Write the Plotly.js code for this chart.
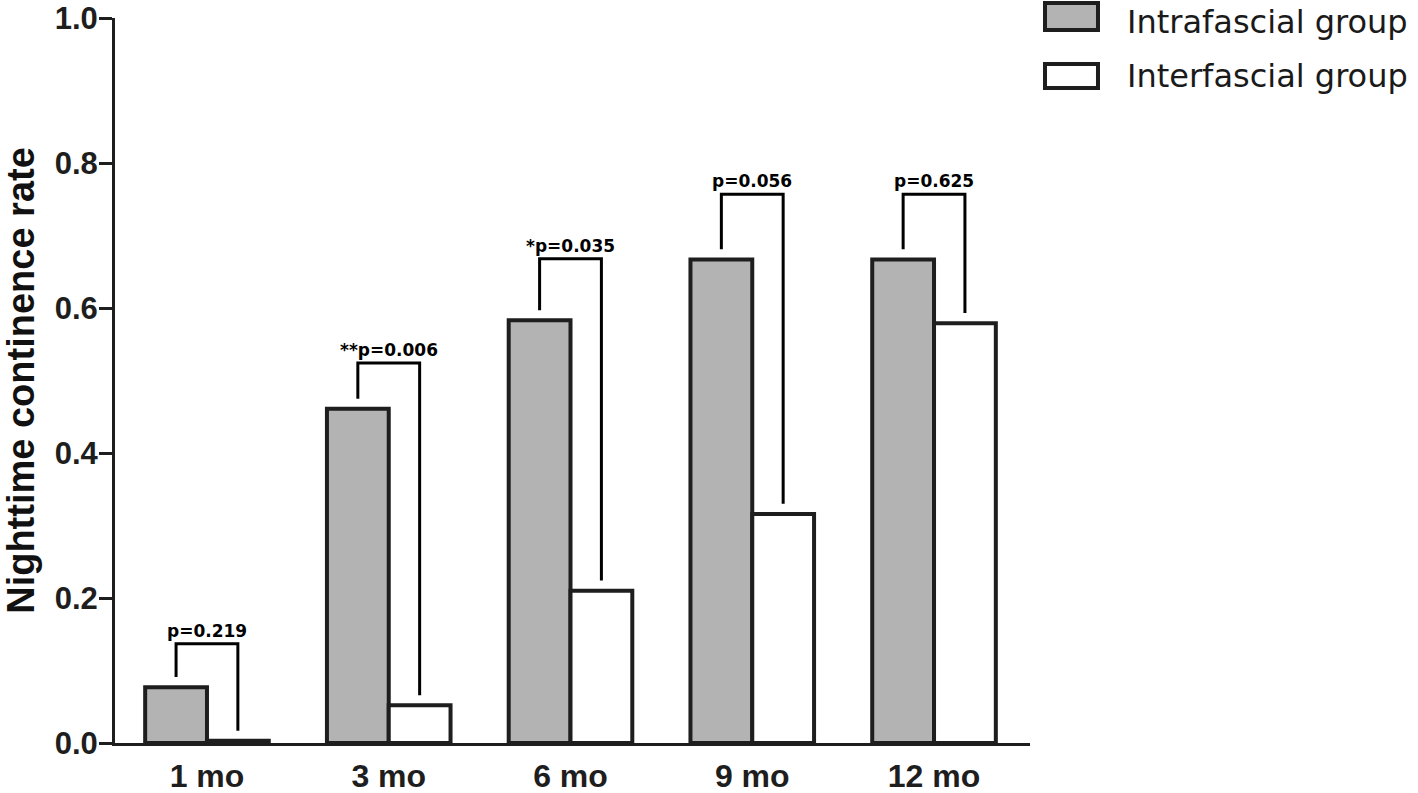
<!DOCTYPE html>
<html>
<head>
<meta charset="utf-8">
<script src="https://cdn.plot.ly/plotly-3.0.1.min.js"></script>
<style>html,body{margin:0;padding:0;background:#fff;}#chart{width:1418px;height:793px;}</style>
</head>
<body>
<div id="chart"></div>
<script>
// ---- data ----
const categories = ["1 mo", "3 mo", "6 mo", "9 mo", "12 mo"];
const intrafascial = [0.077, 0.461, 0.583, 0.667, 0.667];
const interfascial = [0.003, 0.052, 0.210, 0.316, 0.579];
const pLabels = ["p=0.219", "**p=0.006", "*p=0.035", "p=0.056", "p=0.625"];
const bracketTops = [0.137, 0.524, 0.668, 0.757, 0.757];
const seriesNames = ["Intrafascial group", "Interfascial group"];
const yTicks = [0, 0.2, 0.4, 0.6, 0.8, 1.0];

// ---- style ----
const ink = "#1e1e1e";
const grayFill = "#b3b3b3";
const bargap = 0.32;
const half = (1 - bargap) / 4;   // offset of each bar centre from category centre
const legGap = 0.014;
const idx = categories.map((_, i) => i);

const traces = [
  {type: "bar", x: idx, y: intrafascial, name: seriesNames[0],
   marker: {color: grayFill, line: {color: ink, width: 4}}, hoverinfo: "y"},
  {type: "bar", x: idx, y: interfascial, name: seriesNames[1],
   marker: {color: "#ffffff", line: {color: ink, width: 4}}, hoverinfo: "y"}
];

const shapes = [];
const annotations = [];
idx.forEach(i => {
  const xl = i - half, xr = i + half, top = bracketTops[i];
  shapes.push({type: "path", xref: "x", yref: "y",
    path: `M ${xl},${intrafascial[i] + legGap} L ${xl},${top} L ${xr},${top} L ${xr},${interfascial[i] + legGap}`,
    line: {color: "#000", width: 3}});
  annotations.push({x: i, y: top, xref: "x", yref: "y", text: pLabels[i],
    showarrow: false, yanchor: "bottom", xanchor: "center", yshift: 1,
    font: {family: "DejaVu Sans", size: 17, color: "#000", weight: "bold"}});
});

// manual legend (wide swatches as in the reference); plot area spans px 18..743
const legendRows = [
  {y0: 0.9834, y1: 1.0207, ty: 1.0234, fill: grayFill, text: seriesNames[0]},
  {y0: 0.9034, y1: 0.9365, ty: 0.949, fill: "#ffffff", text: seriesNames[1]}
];
legendRows.forEach(r => {
  shapes.push({type: "rect", xref: "paper", yref: "paper", x0: 1.0164, x1: 1.0743,
    y0: r.y0, y1: r.y1, fillcolor: r.fill, line: {color: ink, width: 4}});
  annotations.push({xref: "paper", yref: "paper", x: 1.104, y: r.ty, text: r.text,
    showarrow: false, xanchor: "left", yanchor: "top",
    font: {family: "DejaVu Sans", size: 32, color: "#1a1a1a"}});
});

const layout = {
  width: 1418, height: 793,
  margin: {l: 115, r: 388, t: 18, b: 50},
  paper_bgcolor: "#fff", plot_bgcolor: "#fff",
  showlegend: false,
  barmode: "group", bargap: bargap, bargroupgap: 0,
  xaxis: {
    range: [-0.506, 4.528], tickvals: idx, ticktext: categories,
    showline: true, linewidth: 3, linecolor: ink, ticks: "", showgrid: false, zeroline: false,
    ticklabelstandoff: 3,
    tickfont: {family: "Arial", size: 32, color: ink, weight: "bold"}, fixedrange: true
  },
  yaxis: {
    range: [0, 1], tickvals: yTicks, tickformat: ".1f",
    showline: true, linewidth: 3, linecolor: ink, ticks: "outside", ticklen: 13, tickwidth: 3, tickcolor: ink,
    showgrid: false, zeroline: false, ticklabeloverflow: "allow", ticklabelstandoff: -5,
    tickfont: {family: "Arial", size: 31, color: ink, weight: "bold"},
    title: {text: "Nighttime continence rate", standoff: 19,
      font: {family: "Arial", size: 38, color: "#111", weight: "bold"}}
  },
  shapes: shapes,
  annotations: annotations
};

Plotly.newPlot("chart", traces, layout, {displayModeBar: false, staticPlot: true});
</script>
</body>
</html>
